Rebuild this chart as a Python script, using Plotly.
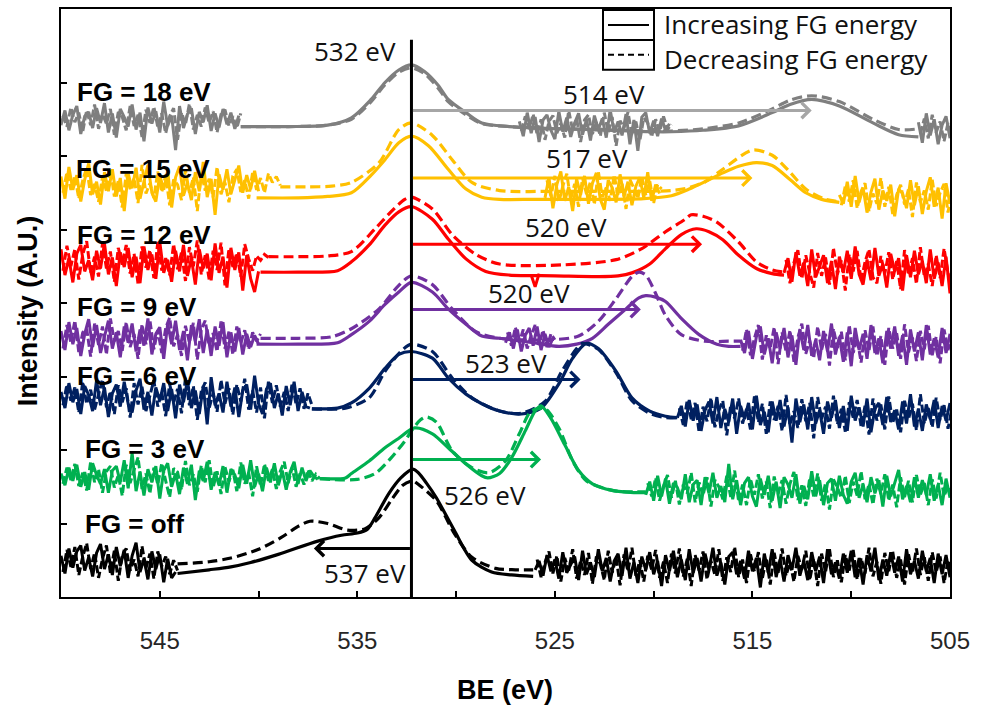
import plotly.graph_objects as go

# O 1s spectra recorded at each flood-gun (FG) setting, stacked vertically.
# "UP" = increasing FG energy sweep (solid), "DOWN" = decreasing sweep (dashed).
# Raw noisy sections are stored as residuals around a level, sampled every RAW_STEP eV;
# the second sweep is sampled half a step later.

RAW_STEP = 0.2
PEAK_REF_EV = 532.26

# ---------------- FG = 18 eV ----------------
FG18_UP_X = [540.9, 538.5, 536.5, 535.3, 534.3, 533.6, 532.9, 532.26, 531.6, 530.9, 530.4, 529.5, 528.7,
             527.3, 526.0, 523.0, 520.0, 519.1, 517.5, 515.7, 514.0, 513.1, 512.0, 510.6, 508.9, 507.6, 506.6]
FG18_UP_Y = [640, 640, 642, 652, 677, 700, 717, 724, 715, 696, 677, 659, 645,
             640, 638, 636, 633, 633, 635, 641, 659, 670, 677, 668, 645, 629, 626]
FG18_DOWN_X = FG18_UP_X
FG18_DOWN_Y = [640, 640, 642, 650, 674, 697, 714, 720, 712, 692, 674, 656, 644,
               640, 638, 636, 634, 634, 637, 645, 664, 676, 682, 674, 650, 636, 637]
FG18_RAW_STARTS = [550.0, 526.8, 506.6]
FG18_RAW_LEVELS = [650, 641, 636]
FG18_RAW_A = [-8, 12, -15, 6, 18, -20, 4, 10, -12, 15, -5, 22, -18, 8, -25, 14, 3, -10, 20, -14, 9, -30, 16,
              -6, 11, -18, 24, -9, 5, -42, 18, -12, 7, 15, -20, 10, -4, 19, -16, 8, -11, 14, -7, 9, -13, 5]
FG18_RAW_B = [6, -14, 18, -10, 12, -22, 8, 15, -6, -18, 20, -8, 11, -15, 4, 17, -12, 9, -20, 14, -5, 10,
              -16, 22, -9, 6, -13, 16, -25, 8, -34, 12, 18, -10, 7, -14, 10, -6, 3]
FG18_RAW_C = [10, -18, 22, -8, 14, -20, 6, 18, -12]
FG18_RAW2_STARTS = [549.9, 526.7, 506.5]
FG18_RAW2_LEVELS = [650, 641, 636]
FG18_RAW2_A = [5, -10, 16, -4, 9, -17, 12, -8, 20, -13, 7, -6, 14, -21, 10, 3, -15, 18, -9, 6, -24, 13, -5,
               17, -11, 8, -19, 4, 15, -28, 9, -7, 21, -14, 6, -10, 16, -5, 11, -18, 7, 13, -9, 4, -12, 8]
FG18_RAW2_B = [-7, 13, -4, 16, -12, 9, -19, 6, 14, -10, 3, -16, 21, -6, 10, -22, 8, 15, -11, 5, -14, 18, -9,
               12, -27, 7, -3, 19, -13, 6, -20, 11, 4, -15, 9, -8, 13, -5, 2]
FG18_RAW2_C = [-6, 15, -12, 20, -4, 11, -16, 9, -8]

# ---------------- FG = 15 eV ----------------
FG15_UP_X = [540.1, 538.0, 536.5, 535.3, 534.3, 533.6, 532.9, 532.26, 531.4, 530.4, 529.5, 528.7, 527.8,
             526.0, 523.0, 520.5, 519.1, 518.2, 517.4, 516.5, 515.7, 514.8, 514.0, 513.1, 512.3, 511.5, 510.6]
FG15_UP_Y = [543, 543, 545, 550, 574, 595, 618, 627, 614, 582, 555, 544, 541,
             541, 541, 542, 546, 555, 565, 577, 586, 591, 587, 568, 550, 541, 537]
FG15_DOWN_X = [538.9, 537.5, 536.3, 535.3, 533.9, 532.9, 532.26, 531.2, 530.2, 529.2, 527.8, 525.0, 522.0,
               520.0, 519.1, 518.2, 517.4, 516.5, 515.0, 514.0, 513.1, 512.3, 511.3, 510.6]
FG15_DOWN_Y = [558, 558, 559, 564, 591, 636, 645, 628, 595, 564, 553, 552, 552,
               552, 553, 557, 565, 582, 608, 601, 578, 555, 541, 538]
FG15_RAW_STARTS = [550.0, 525.5, 510.6]
FG15_RAW_LEVELS = [560, 553, 543]
FG15_RAW_A = [12, -18, 25, -6, 14, -22, 8, 30, -12, 5, -26, 18, -8, 22, -15, 10, -35, 16, -4, 24, -18, 6,
              28, -10, -22, 14, -6, 20, -30, 11, 26, -14, 4, -20, 18, -8, 32, -16, 9, -40, 15, -6, 22, -12,
              8, 27, -10, 14, -5, 20, -8]
FG15_RAW_B = [-10, 18, -24, 8, 26, -14, 5, -28, 16, -6, 20, -18, 10, 24, -12, -26, 14, 4, -16, 22, -8, 12,
              -20, 6, 18, -10, 25, -14, 8, -4]
FG15_RAW_C = [4, -8, 22, -12, 30, -6, 14, -20, 8, 26, -16, 10, -4, 18, -25, 12, 6, -14, 24, -10, 16, -22,
              9, 28, -12, 14, -28, 20, -8]
FG15_RAW2_STARTS = [549.9, 525.4, 510.5]
FG15_RAW2_LEVELS = [558, 553, 543]
FG15_RAW2_A = [-8, 20, -4, 15, -16, 9, 26, -11, 4, -20, 14, -6, 24, -13, 8, -28, 18, -3, 12, -22, 30, -9, 5,
               -15, 21, -7, 16, -25, 10, 3, -18, 23, -8, 13, -33, 19, -5, 11, -14, 27, -10, 6, -21, 15, 24,
               -7, 9, -16, 20, -4, 12, -8, 18, 6, 14, 2]
FG15_RAW2_B = [14, -8, 20, -16, 6, 23, -12, 9, -22, 17, -5, 12, -19, 26, -9, 4, -14, 21, -7, 10, -25, 15, 3,
               -11, 19, -6, 13, -17, 8, 2]
FG15_RAW2_C = [-10, 16, -5, 24, -14, 9, 20, -18, 6, -8, 27, -12, 15, -22, 4, 18, -9, 12, -26, 21, -6, 10,
               -16, 25, -11, 7, 19, -20, 12]

# ---------------- FG = 12 eV ----------------
FG12_UP_X = [539.9, 538.0, 536.0, 535.3, 534.4, 533.6, 532.9, 532.26, 531.2, 530.4, 529.5, 528.5, 527.3,
             525.0, 522.8, 521.8, 521.1, 520.2, 519.4, 518.6, 517.85, 517.2, 516.5, 515.7, 514.8, 514.0, 513.4]
FG12_UP_Y = [442, 442, 444, 456, 479, 506, 524, 531, 514, 487, 460, 443, 438,
             437, 436, 437, 441, 453, 474, 493, 501, 497, 486, 465, 447, 440, 438]
FG12_DOWN_X = [539.5, 538.0, 536.5, 535.3, 534.1, 533.3, 532.6, 532.26, 531.2, 530.2, 529.0, 527.8, 524.5,
               521.9, 520.6, 519.4, 518.4, 518.1, 517.5, 516.8, 515.7, 514.8, 514.0, 513.4]
FG12_DOWN_Y = [463, 463, 464, 470, 501, 524, 541, 544, 528, 493, 466, 453, 452,
               459, 474, 497, 514, 520, 518, 510, 483, 456, 445, 442]
FG12_RAW_STARTS = [550.0, 526.2, 513.4]
FG12_RAW_LEVELS = [453, 438, 447]
FG12_RAW_A = [20, -15, 8, -25, 14, 26, -10, 5, -22, 18, -6, 28, -14, 9, -30, 16, -4, 22, -18, 10, -26, 24,
              -8, 13, -20, 30, -12, 6, -24, 18, -10, 26, -16, 8, -28, 20, -6, 14, -22, 28, -12, 10, -32, 22,
              -8, 16, -36, 12, -20, -38, -10]
FG12_RAW_B = [0, -16, 2]
FG12_RAW_C = [-6, 14, -18, 22, -10, 8, -24, 26, -12, 4, 18, -20, 10, -28, 16, -6, 24, -14, 30, -8, -22, 12,
              -16, 28, -10, 6, -26, 20, -4, 14, -30, 18, -12, 24, -8, 10, -20, 26, -14, 8, -24, 16, -34]
FG12_RAW2_STARTS = [549.9, 513.3]
FG12_RAW2_LEVELS = [456, 447]
FG12_RAW2_A = [-12, 22, -6, 17, -24, 10, 28, -15, 7, -20, 25, -9, 14, -27, 19, -4, 23, -16, 11, -30, 21, -8,
               16, -22, 27, -12, 5, -18, 24, -10, 13, -26, 20, -6, 29, -17, 9, -24, 15, -11, 26, -32, 18, -7,
               12, -20, 24, 4, -12, 8, 2, 10, 6]
FG12_RAW2_C = [12, -20, 8, 25, -14, 18, -6, -26, 21, -10, 15, -22, 28, -8, 11, -30, 19, -4, 24, -17, 9, 26,
               -12, -20, 17, -7, 22, -15, 10, -28, 25, -9, 14, -21, 29, -11, 6, -24, 18, -13, 27, -6, -30]

# ---------------- FG = 9 eV ----------------
FG9_UP_X = [540.1, 538.0, 536.0, 535.3, 534.4, 533.6, 532.9, 532.26, 531.2, 530.4, 529.5, 528.7, 527.8,
            526.1, 524.8, 523.9, 523.1, 522.3, 521.4, 520.75, 520.4, 519.9, 519.4, 518.6, 517.7, 516.8,
            516.2, 515.6]
FG9_UP_Y = [344, 344, 346, 357, 375, 398, 415, 428, 415, 392, 371, 355, 352,
            346, 341, 344, 352, 371, 392, 407, 410, 408, 402, 379, 357, 344, 341, 341]
FG9_DOWN_X = [539.9, 538.0, 536.3, 535.3, 533.9, 532.9, 532.26, 531.2, 530.2, 529.0, 527.8, 525.3, 523.8,
              522.8, 521.9, 521.1, 520.75, 520.4, 519.9, 519.4, 518.6, 517.4, 516.2, 515.6]
FG9_DOWN_Y = [352, 352, 354, 365, 392, 424, 437, 425, 392, 361, 352, 350, 355,
              375, 406, 436, 442, 438, 413, 383, 357, 348, 348, 348]
FG9_RAW_STARTS = [550.0, 527.5, 515.6]
FG9_RAW_LEVELS = [352, 350, 344]
FG9_RAW_A = [10, -16, 22, -8, 14, -24, 6, 26, -12, 18, -20, 4, 24, -14, 8, -26, 16, -6, 20, -18, 12, -10,
             27, -22, 6, 15, -28, 20, -8, 24, -16, 10, -30, 18, -4, 26, -20, 12, -24, 16, -10, 22, -26, 8,
             -18, 14, -22, 6, -12, 4, -8]
FG9_RAW_B = [-4, 10, -12, 14, -16, 6, 16, -8, 18, -14, 8, -10, 2]
FG9_RAW_C = [6, -12, 18, -20, 10, 24, -14, 8, -26, 16, -6, 22, -18, 12, -28, 20, -8, 26, -16, 6, -22, 18,
             -10, 28, -14, 10, -24, 16, -30, 22, -8, 14, -20, 26, -12, 8, -26, 18, -6, 24, -16, 12, -28, 20,
             -10, 16, -22, 26, -14, 8, -18, 22, -12, 14]
FG9_RAW2_STARTS = [549.9, 527.4, 515.5]
FG9_RAW2_LEVELS = [352, 352, 344]
FG9_RAW2_A = [-14, 18, -6, 24, -19, 8, 13, -25, 20, -9, 16, -22, 27, -4, 10, -17, 22, -12, 6, -28, 19, -8,
              25, -15, 11, -20, 14, 28, -11, 5, -24, 17, -6, 21, -29, 12, 24, -10, 7, -18, 23, -14, 9, -22,
              16, -7, 11, -15, 8, -4, 6]
FG9_RAW2_B = [8, -10, 15, -6, 12, -14, 4, 18, -9, 11, -12, 6, -2]
FG9_RAW2_C = [-9, 20, -15, 8, 26, -21, 12, -6, 23, -27, 16, -10, 19, -24, 9, 28, -13, 5, -19, 24, -8, 14,
              -29, 21, -5, 17, -22, 26, -12, 8, -25, 19, -9, 24, -16, 11, -28, 22, -6, 15, -20, 27, -11, 9,
              -23, 18, -7, 25, -15, 10, -26, 20, -8, 12]

# ---------------- FG = 6 eV ----------------
FG6_UP_X = [537.3, 536.0, 535.3, 534.4, 533.6, 532.9, 532.26, 531.2, 530.4, 529.5, 528.7, 527.8, 526.7,
            525.7, 524.8, 524.1, 523.4, 522.8, 521.9, 521.1, 520.2, 519.4, 518.8]
FG6_UP_Y = [256, 257, 264, 284, 311, 330, 334, 325, 298, 276, 263, 253, 249,
            257, 290, 325, 345, 338, 307, 271, 253, 246, 244]
FG6_DOWN_X = [537.3, 535.6, 534.4, 533.6, 532.8, 532.26, 531.2, 530.2, 529.2, 527.8, 526.7, 525.5, 524.65,
              523.9, 523.6, 522.8, 521.9, 521.1, 520.2, 519.4, 518.8]
FG6_DOWN_Y = [256, 257, 271, 307, 334, 344, 334, 298, 271, 253, 250, 266, 307,
              338, 345, 337, 305, 267, 250, 244, 244]
FG6_RAW_STARTS = [550.0, 518.8]
FG6_RAW_LEVELS = [271, 248]
FG6_RAW_A = [8, -14, 20, -6, 12, -22, 16, 4, -18, 24, -10, 14, -26, 6, 18, -12, 22, -8, -20, 10, 26, -16,
             8, -24, 14, -4, 20, -18, 12, -28, 18, -6, 24, -14, 10, -22, 16, -36, 28, -10, 6, -20, 22, -12,
             14, -26, 10, 18, -16, 30, -8, -22, 12, 20, -14, 6, -24, 16, -10, 22, -18, 8, -12, -14]
FG6_RAW_B = [-4, 12, -16, 20, -8, 14, -22, 6, 18, -12, 24, -18, 8, -10, 22, -26, 12, -6, 16, -20, 26, -14,
             4, -24, 18, -8, 20, -16, 10, -38, 22, -10, 14, -20, 24, -12, 6, -26, 18, -4, 20, -18, 12, -22,
             26, -8, 10, -16, 22, -24, 8, 16, -14, 24, -10, 6, -20, 18, -12, 28, -16, 8, -22, 14, -6, 20,
             -18, 12, -8, 16]
FG6_RAW2_STARTS = [549.9, 518.7]
FG6_RAW2_LEVELS = [271, 248]
FG6_RAW2_A = [-10, 18, -4, 14, -20, 22, -8, 11, -16, 6, 25, -13, 9, -22, 17, -6, 13, -27, 20, -9, 15, -18, 4,
              24, -12, 8, -25, 19, -7, 12, -21, 27, -10, 16, -30, 9, 21, -14, 6, -19, 24, -8, 13, -23, 18,
              -5, 26, -16, 10, -20, 14, -28, 22, -7, 17, -12, 8, -18, 20, -9, 13, -15, 6, -10]
FG6_RAW2_B = [9, -14, 20, -6, 16, -24, 11, -9, 23, -17, 6, 19, -28, 13, -5, 22, -12, 8, -20, 25, -10, 15,
              -26, 18, -7, 12, -22, 27, -14, 5, -18, 21, -9, 16, -32, 24, -6, 11, -19, 26, -13, 8, -23, 17,
              -4, 20, -16, 12, -27, 22, -8, 14, -20, 25, -11, 7, -24, 19, -6, 15, -21, 28, -12, 9, -17, 23,
              -7, 13, -19, 10]

# ---------------- FG = 3 eV ----------------
FG3_UP_X = [536.9, 535.6, 535.3, 534.4, 533.6, 532.9, 532.1, 531.2, 530.4, 529.5, 528.7, 528.4, 527.8,
            527.2, 526.5, 526.0, 525.7, 525.2, 524.5, 523.8, 523.1, 522.1, 521.0, 520.4]
FG3_UP_Y = [161, 162, 168, 185, 203, 216, 230, 222, 203, 181, 165, 162, 168,
            189, 226, 253, 260, 243, 207, 172, 154, 145, 142, 142]
FG3_DOWN_X = [536.9, 535.0, 534.1, 533.3, 532.6, 532.26, 531.8, 531.5, 531.0, 530.2, 529.2, 528.35, 527.5,
              526.8, 526.2, 525.5, 524.8, 524.1, 523.4, 522.1, 521.0, 520.4]
FG3_DOWN_Y = [161, 160, 168, 189, 212, 226, 241, 245, 238, 199, 176, 169, 185,
              222, 253, 256, 230, 185, 158, 145, 143, 143]
FG3_RAW_STARTS = [550.0, 520.4]
FG3_RAW_LEVELS = [162, 145]
FG3_RAW_A = [6, -10, 14, -4, 18, -12, 8, -16, 20, 4, -8, 12, -20, 10, 16, -6, 24, -14, 34, -18, 8, -24, 12,
             -6, 16, -28, 10, 20, -12, 6, -22, 14, -8, 18, -30, 10, -4, 22, -16, 8, -10, 16, -20, 12, 4,
             -14, 18, -8, 24, -12, 6, -18, 14, -6, 20, -10, 10, -16, 8, 22, -8, 14, -4, 10, 2, -2]
FG3_RAW_B = [-6, 12, -14, 20, -8, 16, -18, 10, 4, -12, 22, -16, 8, 14, -20, 18, -4, 24, -10, 6, -16, 36,
             -12, 14, -20, 10, 18, -8, -22, 16, -6, 20, -14, 12, -24, 18, 8, -10, 22, -18, 6, -12, 26, -8,
             14, -20, 10, 16, -14, 20, -6, -18, 12, 24, -10, 8, -16, 18, -4, 14, -22, 20, -8, 10, 28, -12,
             6, -16, 18, -10, 14, -6, 22, -14, 8, -20, 16, -10]
FG3_RAW2_STARTS = [549.9, 520.3]
FG3_RAW2_LEVELS = [162, 145]
FG3_RAW2_A = [-8, 14, -3, 19, -11, 7, -17, 22, -6, 12, -20, 9, 16, -13, 4, -24, 18, -7, 11, 28, -15, 6, -21,
              14, -9, 20, -4, -26, 13, 8, -16, 23, -10, 5, -19, 17, -6, 24, -13, 9, -22, 15, -5, 11, -18,
              21, -8, 7, -25, 16, -11, 19, -4, 12, -15, 9, 22, -7, 14, -12, 6, -9, 11, -4, 5, -1]
FG3_RAW2_B = [10, -8, 17, -14, 6, 21, -10, 13, -19, 8, -4, 24, -16, 11, -7, 18, -22, 14, 5, -12, 20, -9, 27,
              -15, 8, -20, 16, -6, 22, -11, 12, -24, 19, -5, 14, -18, 9, 25, -13, 7, -21, 17, -8, 23, -14,
              10, -26, 15, 4, -10, 20, -17, 12, -7, 26, -12, 9, -19, 16, -5, 22, -14, 8, -23, 18, -9, 13,
              -16, 21, -6, 10, -20, 15, -11, 24, -8, 6, -14]

# ---------------- FG off ----------------
FGOFF_UP_X = [544.1, 542.5, 541.4, 540.4, 539.0, 537.0, 535.8, 535.0, 534.5, 534.1, 533.4, 532.8, 532.2,
              531.95, 531.5, 531.0, 530.1, 529.2, 528.2, 527.2, 526.1]
FGOFF_UP_Y = [32, 37, 41, 47, 58, 76, 84, 87, 92, 108, 141, 162, 174,
              170, 155, 135, 91, 50, 34, 30, 28]
FGOFF_DOWN_X = [544.1, 542.5, 541.4, 540.0, 538.85, 538.0, 537.4, 536.5, 535.5, 534.6, 533.9, 533.3, 532.7,
                532.2, 531.95, 531.0, 530.1, 529.2, 528.0, 527.0, 526.1]
FGOFF_DOWN_Y = [45, 48, 53, 65, 81, 96, 103, 100, 91, 93, 108, 131, 152,
                158, 154, 131, 87, 54, 39, 37, 37]
FGOFF_RAW_STARTS = [550.0, 526.0]
FGOFF_RAW_LEVELS = [46, 41]
FGOFF_RAW_A = [10, -14, 20, -6, 16, 24, -10, 8, -18, 14, 26, -8, 12, -16, 22, -4, 18, -20, 10, 28, -12, 6,
               -22, 16, -8, 12, -26, 6, -20, -12]
FGOFF_RAW_B = [-4, 8, -12, 16, -6, 10, -16, 20, -8, 4, 14, -18, 22, -10, 6, -14, 24, -6, 12, -20, 8, 18,
               -12, 26, -16, 6, -22, 14, -4, 20, -10, 8, -26, 16, -6, 22, -14, 10, -18, 24, -8, 12, -20, 18,
               -4, 26, -12, 6, -24, 14, 20, -10, 8, -16, 22, -6, 12, -28, 18, -8, 24, -14, 10, -20, 16, -4,
               26, -12, 8, -18, 20, -6, 14, -22, 24, -10, 6, -16, 18, -8, 22, -14, 12, -24, 16, -6, 26, -18,
               10, -12, 20, -8, 14, -20, 24, -10, 8, -16, 22, -6, 12, -22, 18, -10, 16, -14]
FGOFF_RAW2_STARTS = [549.9, 525.9]
FGOFF_RAW2_LEVELS = [46, 41]
FGOFF_RAW2_A = [-12, 18, -5, 22, -16, 9, 27, -8, 14, -20, 6, 24, -13, 17, -24, 11, 20, -10, 5, -18, 23, -7,
                13, -21, 16, -4, 9, -15, 4, -10]
FGOFF_RAW2_B = [10, -14, 6, 21, -9, 15, -20, 12, -5, 24, -16, 8, -11, 19, -23, 14, 4, -18, 22, -8, 13, -25,
                17, -6, 26, -12, 9, -20, 15, -4, 23, -15, 7, -22, 18, -9, 25, -13, 11, -26, 16, -5, 21, -17,
                8, -11, 24, -19, 13, -7, 27, -14, 10, -22, 17, -6, 20, -16, 12, -24, 19, -8, 25, -12, 6, -20,
                15, -3, 22, -18, 11, -26, 18, -7, 24, -14, 9, -21, 16, -5, 23, -17, 12, -9, 26, -13, 7, -23,
                19, -6, 21, -15, 10, -24, 17, -8, 25, -11, 13, -19, 20, -7, 14, -22, 9, -12]

# Peak-shift arrows: tip energy and height, with the labelled position
ARROW_TIP_EV = [512.0, 515.0, 517.55, 520.65, 523.7, 525.7, 537.2]
ARROW_LEVEL = [662, 570, 480, 391, 296, 187, 66]
ARROW_TEXT = ["514 eV", "517 eV", "520 eV", "520 eV", "523 eV", "526 eV", "537 eV"]

FG_LABELS = ["FG = 18 eV", "FG = 15 eV", "FG = 12 eV", "FG = 9 eV", "FG = 6 eV", "FG = 3 eV", "FG = off"]

X_TICKS = [545, 540, 535, 530, 525, 520, 515, 510, 505]
X_TICK_TEXT = ["545", "", "535", "", "525", "", "515", "", "505"]
Y_TICKS = [100, 200, 300, 400, 500, 600, 700]

# ---------------- assemble ----------------
SPECTRA = [
    dict(up=(FG18_UP_X, FG18_UP_Y), down=(FG18_DOWN_X, FG18_DOWN_Y),
         raw=list(zip(FG18_RAW_STARTS, FG18_RAW_LEVELS, [FG18_RAW_A, FG18_RAW_B, FG18_RAW_C])),
         raw2=list(zip(FG18_RAW2_STARTS, FG18_RAW2_LEVELS, [FG18_RAW2_A, FG18_RAW2_B, FG18_RAW2_C]))),
    dict(up=(FG15_UP_X, FG15_UP_Y), down=(FG15_DOWN_X, FG15_DOWN_Y),
         raw=list(zip(FG15_RAW_STARTS, FG15_RAW_LEVELS, [FG15_RAW_A, FG15_RAW_B, FG15_RAW_C])),
         raw2=list(zip(FG15_RAW2_STARTS, FG15_RAW2_LEVELS, [FG15_RAW2_A, FG15_RAW2_B, FG15_RAW2_C]))),
    dict(up=(FG12_UP_X, FG12_UP_Y), down=(FG12_DOWN_X, FG12_DOWN_Y),
         raw=list(zip(FG12_RAW_STARTS, FG12_RAW_LEVELS, [FG12_RAW_A, FG12_RAW_B, FG12_RAW_C])),
         raw2=list(zip(FG12_RAW2_STARTS, FG12_RAW2_LEVELS, [FG12_RAW2_A, FG12_RAW2_C]))),
    dict(up=(FG9_UP_X, FG9_UP_Y), down=(FG9_DOWN_X, FG9_DOWN_Y),
         raw=list(zip(FG9_RAW_STARTS, FG9_RAW_LEVELS, [FG9_RAW_A, FG9_RAW_B, FG9_RAW_C])),
         raw2=list(zip(FG9_RAW2_STARTS, FG9_RAW2_LEVELS, [FG9_RAW2_A, FG9_RAW2_B, FG9_RAW2_C]))),
    dict(up=(FG6_UP_X, FG6_UP_Y), down=(FG6_DOWN_X, FG6_DOWN_Y),
         raw=list(zip(FG6_RAW_STARTS, FG6_RAW_LEVELS, [FG6_RAW_A, FG6_RAW_B])),
         raw2=list(zip(FG6_RAW2_STARTS, FG6_RAW2_LEVELS, [FG6_RAW2_A, FG6_RAW2_B]))),
    dict(up=(FG3_UP_X, FG3_UP_Y), down=(FG3_DOWN_X, FG3_DOWN_Y),
         raw=list(zip(FG3_RAW_STARTS, FG3_RAW_LEVELS, [FG3_RAW_A, FG3_RAW_B])),
         raw2=list(zip(FG3_RAW2_STARTS, FG3_RAW2_LEVELS, [FG3_RAW2_A, FG3_RAW2_B]))),
    dict(up=(FGOFF_UP_X, FGOFF_UP_Y), down=(FGOFF_DOWN_X, FGOFF_DOWN_Y),
         raw=list(zip(FGOFF_RAW_STARTS, FGOFF_RAW_LEVELS, [FGOFF_RAW_A, FGOFF_RAW_B])),
         raw2=list(zip(FGOFF_RAW2_STARTS, FGOFF_RAW2_LEVELS, [FGOFF_RAW2_A, FGOFF_RAW2_B]))),
]

COLORS = ["#7F7F7F", "#FFC000", "#FF0000", "#7030A0", "#002060", "#00B050", "#000000"]
ARROW_COLORS = ["#A6A6A6", "#FFC000", "#FF0000", "#7030A0", "#002060", "#00B050", "#000000"]

# label placement
FG_LABEL_Y = [687, 583, 493, 395, 301, 202, 100]
FG_LABEL_PX = [0.016, 0.015, 0.016, 0.016, 0.016, 0.025, 0.025]
ARROW_LABEL_POS = [(522.5, 684), (523.4, 597), (524.45, 503), (526.3, 413), (527.5, 319), (528.55, 139),
                   (534.6, 33)]

LW = 3.2
DASH = "10px,5px"
ANNOT_FONT = "Open Sans, Lato, sans-serif"
BOLD_FONT = "Liberation Sans, Arial, sans-serif"
TEXT_COLOR = "#111111"


def raw_trace(start, level, resid, color, dash=None):
    xs = [round(start - RAW_STEP * i, 2) for i in range(len(resid))]
    ys = [level + r for r in resid]
    line = dict(color=color, width=3)
    if dash:
        line["dash"] = dash
    return go.Scatter(x=xs, y=ys, mode="lines", hoverinfo="skip", line=line)


fig = go.Figure()

for spec, color in zip(SPECTRA, COLORS):
    dx, dy = spec["down"]
    fig.add_trace(go.Scatter(x=dx, y=dy, mode="lines", hoverinfo="skip",
                             line=dict(color=color, width=LW, dash=DASH, shape="spline", smoothing=0.8)))
    ux, uy = spec["up"]
    fig.add_trace(go.Scatter(x=ux, y=uy, mode="lines", hoverinfo="skip",
                             line=dict(color=color, width=LW, shape="spline", smoothing=0.8)))
    for start, level, resid in spec["raw2"]:
        fig.add_trace(raw_trace(start, level, resid, color, dash="8px,3px"))
    for start, level, resid in spec["raw"]:
        fig.add_trace(raw_trace(start, level, resid, color))

# reference line at the main O 1s position
fig.add_trace(go.Scatter(x=[PEAK_REF_EV, PEAK_REF_EV], y=[0, 758], mode="lines", hoverinfo="skip",
                         line=dict(color="black", width=3)))

annotations = []
for tip, lvl, c in zip(ARROW_TIP_EV, ARROW_LEVEL, ARROW_COLORS):
    annotations.append(dict(x=tip, y=lvl, ax=PEAK_REF_EV, ay=lvl, xref="x", yref="y", axref="x", ayref="y",
                            text="", showarrow=True, arrowhead=4, arrowsize=1, arrowwidth=3,
                            arrowcolor=c, standoff=0, startstandoff=0))
for txt, (px, py) in zip(ARROW_TEXT, ARROW_LABEL_POS):
    annotations.append(dict(x=px, y=py, xref="x", yref="y", text=txt, showarrow=False,
                            xanchor="center", yanchor="middle",
                            font=dict(family=ANNOT_FONT, size=26, color=TEXT_COLOR)))
annotations.append(dict(x=535.1, y=743, xref="x", yref="y", text="532 eV", showarrow=False,
                        xanchor="center", yanchor="middle",
                        font=dict(family=ANNOT_FONT, size=26, color=TEXT_COLOR)))
for txt, lx, ly in zip(FG_LABELS, FG_LABEL_PX, FG_LABEL_Y):
    annotations.append(dict(x=lx, y=ly, xref="paper", yref="y", text="<b>" + txt + "</b>",
                            showarrow=False, xanchor="left", yanchor="middle",
                            font=dict(family=BOLD_FONT, size=26, color="black")))

# axis titles
annotations.append(dict(x=0.4994, y=-0.158, xref="paper", yref="paper", text="<b>BE (eV)</b>",
                        showarrow=False, xanchor="center", yanchor="middle",
                        font=dict(family=BOLD_FONT, size=27, color="black")))
annotations.append(dict(x=-0.037, y=0.486, xref="paper", yref="paper", text="<b>Intensity (A.U.)</b>",
                        showarrow=False, textangle=-90, xanchor="center", yanchor="middle",
                        font=dict(family=BOLD_FONT, size=27, color="black")))


# legend, placed in figure pixels
def X(px):
    return (px - 61) / 889


def Y(py):
    return (597 - py) / 590


shapes = [
    dict(type="rect", xref="paper", yref="paper", x0=X(603), x1=X(654), y0=Y(38), y1=Y(8),
         line=dict(color="black", width=2)),
    dict(type="rect", xref="paper", yref="paper", x0=X(603), x1=X(654), y0=Y(68), y1=Y(38),
         line=dict(color="black", width=2)),
    dict(type="line", xref="paper", yref="paper", x0=X(608), x1=X(649), y0=Y(23), y1=Y(23),
         line=dict(color="black", width=2)),
    dict(type="line", xref="paper", yref="paper", x0=X(608), x1=X(649), y0=Y(53), y1=Y(53),
         line=dict(color="black", width=2, dash="6px,4px")),
]
annotations.append(dict(x=X(662), y=Y(22), xref="paper", yref="paper", text="Increasing FG energy",
                        showarrow=False, xanchor="left", yanchor="middle",
                        font=dict(family=ANNOT_FONT, size=26, color=TEXT_COLOR)))
annotations.append(dict(x=X(662), y=Y(57), xref="paper", yref="paper", text="Decreasing FG energy",
                        showarrow=False, xanchor="left", yanchor="middle",
                        font=dict(family=ANNOT_FONT, size=26, color=TEXT_COLOR)))

fig.update_layout(
    width=982, height=710,
    margin=dict(l=61, r=32, t=7, b=113),
    plot_bgcolor="white", paper_bgcolor="white",
    showlegend=False,
    annotations=annotations, shapes=shapes,
    xaxis=dict(range=[550, 505], showline=True, mirror=True, linecolor="black", linewidth=2,
               ticks="inside", ticklen=6, tickwidth=2, tickcolor="black",
               tickvals=X_TICKS, ticktext=X_TICK_TEXT, ticklabelstandoff=21,
               tickfont=dict(family="Liberation Sans, Arial, sans-serif", size=24, color="#262626"),
               showgrid=False, zeroline=False),
    yaxis=dict(range=[0, 800], showline=True, mirror=True, linecolor="black", linewidth=2,
               ticks="inside", ticklen=6, tickwidth=2, tickcolor="black",
               tickvals=Y_TICKS, showticklabels=False,
               showgrid=False, zeroline=False),
)

fig.write_html("out.html", config={"displayModeBar": False})
